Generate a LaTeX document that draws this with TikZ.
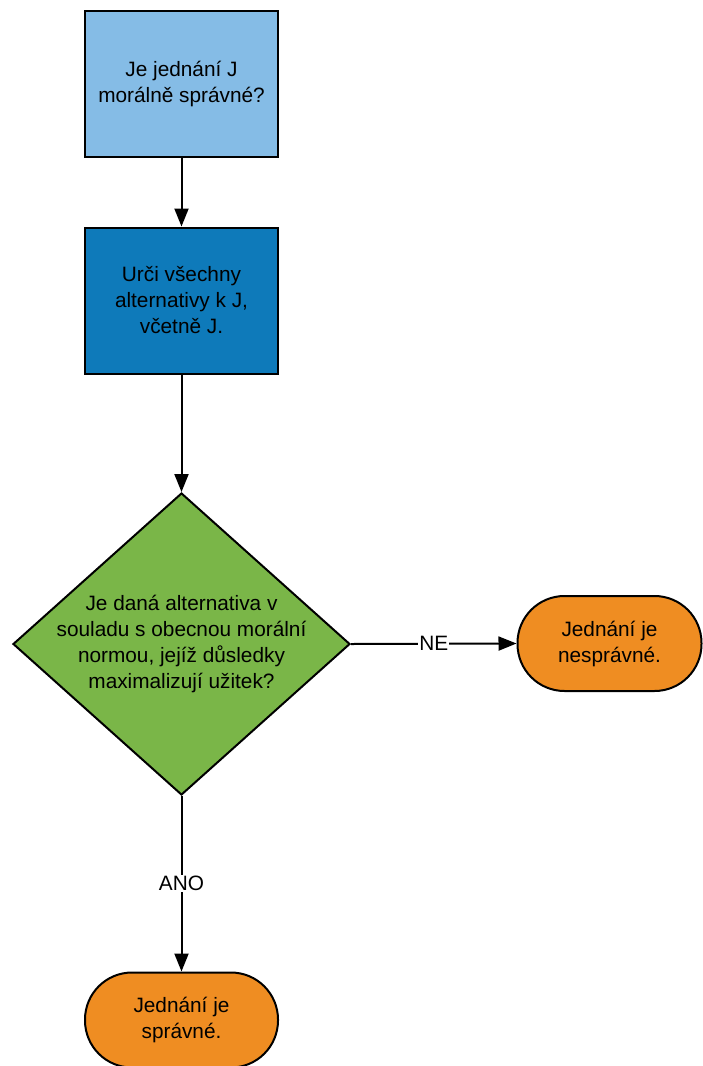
\documentclass[tikz,border=0pt]{standalone}
\usepackage{fontspec}
\setmainfont{Liberation Sans}
\usetikzlibrary{shapes.geometric,arrows.meta}
\definecolor{lightblueC}{HTML}{85BCE6}
\definecolor{blueC}{HTML}{0E7ABA}
\definecolor{greenC}{HTML}{7AB648}
\definecolor{orangeC}{HTML}{EF8D22}
\begin{document}
\begin{tikzpicture}[x=1pt,y=-1pt,
  font=\fontsize{20.8}{26}\selectfont,
  box/.style={draw=black, line width=2pt, minimum width=193pt, minimum height=146pt, align=center, inner sep=0pt},
  term/.style={draw=black, line width=2pt, fill=orangeC, rounded corners=47pt, minimum height=95pt, align=center, inner sep=0pt},
  conn/.style={line width=2pt, -{Triangle[width=14pt,length=18pt]}},
  lbl/.style={fill=white, inner sep=1pt}]
\useasboundingbox (0,0) rectangle (702,1066);
\node[box, fill=lightblueC] (q) at (181.5,84) {Je jednání J\\morálně správné?};
\node[box, fill=blueC] (alt) at (181.5,300.5) {Urči všechny\\alternativy k J,\\včetně J.};
\node[diamond, draw=black, line width=2pt, fill=greenC, minimum width=337pt, minimum height=302pt, inner sep=0pt] (d) at (181.5,644) {};
\node[align=center] (dt) at (181.5,644) {Je daná alternativa v\\souladu s obecnou morální\\normou, jejíž důsledky\\maximalizují užitek?};
\node[term, minimum width=184pt] (ne) at (609.5,643.5) {Jednání je\\nesprávné.};
\node[term, minimum width=193pt] (ano) at (181.5,1020) {Jednání je\\správné.};
\draw[conn] (q.south) -- (alt.north);
\draw[conn] (alt.south) -- (d.north);
\draw[conn] (d.east) -- node[lbl] {NE} (ne.west);
\draw[conn] (d.south) -- node[lbl] {ANO} (ano.north);
\end{tikzpicture}
\end{document}
